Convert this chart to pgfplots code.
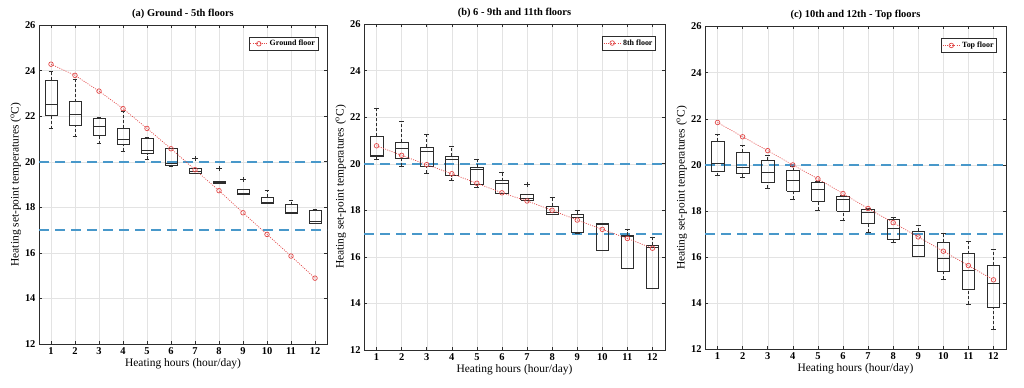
\documentclass[border=0pt]{standalone}
\usepackage{pgfplots}
\pgfplotsset{compat=1.18}
\usepackage{fontspec}
\setmainfont{Liberation Serif}
\definecolor{refblue}{RGB}{72,152,202}
\definecolor{refred}{RGB}{226,72,72}
\definecolor{boxgray}{RGB}{45,45,45}
\pgfplotsset{
  boxline/.style={boxgray, line width=0.6pt, no marks, forget plot},
  whisk/.style={boxgray, line width=0.6pt, no marks, forget plot, dash pattern=on 3bp off 2bp},
}
% box: position, lower whisker, lower quartile, median, upper quartile, upper whisker
\newcommand{\bx}[6]{%
  \pgfmathsetmacro{\bxleft}{#1-0.25}\pgfmathsetmacro{\bxright}{#1+0.25}%
  \pgfmathsetmacro{\capleft}{#1-0.1}\pgfmathsetmacro{\capright}{#1+0.1}%
  \addplot[whisk] coordinates {(#1,#2) (#1,#3)};
  \addplot[whisk] coordinates {(#1,#5) (#1,#6)};
  \addplot[boxline] coordinates {(\capleft,#2) (\capright,#2)};
  \addplot[boxline] coordinates {(\capleft,#6) (\capright,#6)};
  \addplot[boxline] coordinates {(\bxleft,#3) (\bxright,#3) (\bxright,#5) (\bxleft,#5) (\bxleft,#3)};
  \addplot[boxline] coordinates {(\bxleft,#4) (\bxright,#4)};
}
\newcommand{\outl}[2]{\addplot[boxgray, only marks, mark=+, mark size=2.6pt, mark options={line width=0.6pt}, forget plot] coordinates {(#1,#2)};}
\pgfplotsset{
  myax/.style={
    scale only axis,
    anchor=south west,
    xmin=0.5, xmax=12.5, ymin=12, ymax=26,
    xtick={1,...,12}, ytick={12,14,...,26},
    tick align=inside,
    major tick length=3bp,
    grid=major,
    grid style={gray!22, line width=0.4pt},
    axis line style={boxgray, line width=0.6pt},
    tick style={boxgray, line width=0.5pt},
    /pgf/number format/assume math mode=true,
    ticklabel style={font=\fontsize{10.5}{12}\selectfont\bfseries},
    xlabel={Heating hours (hour/day)},
    ylabel={Heating set-point temperatures (\textsuperscript{o}C)},
    label style={font=\fontsize{11.5}{13}\selectfont},
    xlabel style={yshift=3bp},
    ylabel style={yshift=-3bp},
    title style={font=\fontsize{10.5}{12}\selectfont\bfseries, yshift=-3bp},
    legend style={at={(rel axis cs:0.97,0.963)}, anchor=north east, draw=boxgray, line width=0.5pt,
      font=\fontsize{8}{9}\selectfont\bfseries, inner sep=1.2bp, row sep=-1bp},
    legend cell align=left,
  },
  refline/.style={draw=refblue, color=refblue, line width=2bp, dash pattern=on 10bp off 6bp, no marks, forget plot},
  redline/.style={refred, line width=0.7pt, dash pattern=on 1bp off 1.3bp, mark=o, mark size=2.3bp, mark options={solid, line width=0.7pt}},
}
\begin{document}
\begin{tikzpicture}
\useasboundingbox (0,0) rectangle (1024bp,388bp);
% ---------------- (a)
\begin{axis}[myax, at={(39bp,44bp)}, width=288bp, height=319bp, title={(a) Ground - 5th floors}]
\addplot[refline] coordinates {(0.5,20) (12.5,20)};
\addplot[refline] coordinates {(0.5,17) (12.5,17)};
\bx{1}{21.45}{22.03}{22.51}{23.58}{23.97}
\bx{2}{21.10}{21.59}{22.07}{22.64}{23.60}
\bx{3}{20.79}{21.17}{21.56}{21.91}{21.95}
\bx{4}{20.46}{20.75}{20.98}{21.47}{22.20}
\bx{5}{20.10}{20.35}{20.51}{21.02}{21.05}
\bx{6}{19.81}{19.85}{19.95}{20.58}{20.58}
\bx{7}{19.48}{19.48}{19.56}{19.70}{19.70}
\bx{8}{19.04}{19.04}{19.08}{19.13}{19.13}
\bx{9}{18.59}{18.59}{18.63}{18.78}{18.78}
\bx{10}{18.17}{18.17}{18.20}{18.46}{18.75}
\bx{11}{17.73}{17.73}{17.76}{18.11}{18.32}
\bx{12}{17.28}{17.28}{17.39}{17.85}{17.90}
\outl{7}{20.13}
\outl{8}{19.69}
\outl{9}{19.22}
\addplot[redline] coordinates {(1,24.28) (2,23.79) (3,23.10) (4,22.33) (5,21.46) (6,20.57) (7,19.65) (8,18.73) (9,17.76) (10,16.81) (11,15.86) (12,14.89)};
\addlegendentry{Ground floor}
\end{axis}
% ---------------- (b)
\begin{axis}[myax, at={(364bp,38bp)}, width=301bp, height=326bp, title={(b) 6 - 9th and 11th floors}]
\addplot[refline] coordinates {(0.5,20) (12.5,20)};
\addplot[refline] coordinates {(0.5,17) (12.5,17)};
\bx{1}{20.20}{20.31}{20.35}{21.17}{22.39}
\bx{2}{19.91}{20.24}{20.66}{20.93}{21.84}
\bx{3}{19.58}{19.89}{20.53}{20.71}{21.28}
\bx{4}{19.27}{19.49}{20.21}{20.33}{20.74}
\bx{5}{18.99}{19.10}{19.74}{19.84}{20.17}
\bx{6}{18.72}{18.72}{19.17}{19.27}{19.63}
\bx{7}{18.44}{18.44}{18.53}{18.67}{18.67}
\bx{8}{17.81}{17.81}{17.90}{18.18}{18.54}
\bx{9}{17.00}{17.07}{17.69}{17.83}{18.00}
\bx{10}{16.28}{16.28}{17.40}{17.44}{17.45}
\bx{11}{15.50}{15.50}{16.90}{16.94}{17.17}
\bx{12}{14.65}{14.65}{16.43}{16.50}{16.85}
\outl{7}{19.11}
\addplot[redline] coordinates {(1,20.77) (2,20.36) (3,19.96) (4,19.57) (5,19.16) (6,18.75) (7,18.40) (8,18.00) (9,17.58) (10,17.18) (11,16.79) (12,16.37)};
\addlegendentry{8th floor}
\end{axis}
% ---------------- (c)
\begin{axis}[myax, at={(705bp,38.5bp)}, width=301bp, height=323bp, title={(c) 10th and 12th - Top floors}]
\addplot[refline] coordinates {(0.5,20) (12.5,20)};
\addplot[refline] coordinates {(0.5,17) (12.5,17)};
\bx{1}{19.54}{19.74}{20.07}{21.03}{21.32}
\bx{2}{19.47}{19.64}{19.88}{20.56}{20.83}
\bx{3}{19.00}{19.25}{19.67}{20.20}{20.43}
\bx{4}{18.52}{18.85}{19.34}{19.75}{19.95}
\bx{5}{18.05}{18.44}{18.95}{19.24}{19.30}
\bx{6}{17.59}{18.00}{18.52}{18.62}{18.70}
\bx{7}{17.09}{17.45}{17.94}{18.08}{18.10}
\bx{8}{16.64}{16.78}{17.25}{17.64}{17.74}
\bx{9}{16.03}{16.06}{16.52}{17.12}{17.39}
\bx{10}{15.04}{15.37}{15.97}{16.65}{17.04}
\bx{11}{13.97}{14.62}{15.44}{16.16}{16.70}
\bx{12}{12.87}{13.82}{14.86}{15.67}{16.34}
\addplot[redline] coordinates {(1,21.84) (2,21.22) (3,20.62) (4,20.00) (5,19.40) (6,18.76) (7,18.11) (8,17.50) (9,16.88) (10,16.26) (11,15.64) (12,15.02)};
\addlegendentry{Top floor}
\end{axis}
\end{tikzpicture}
\end{document}
